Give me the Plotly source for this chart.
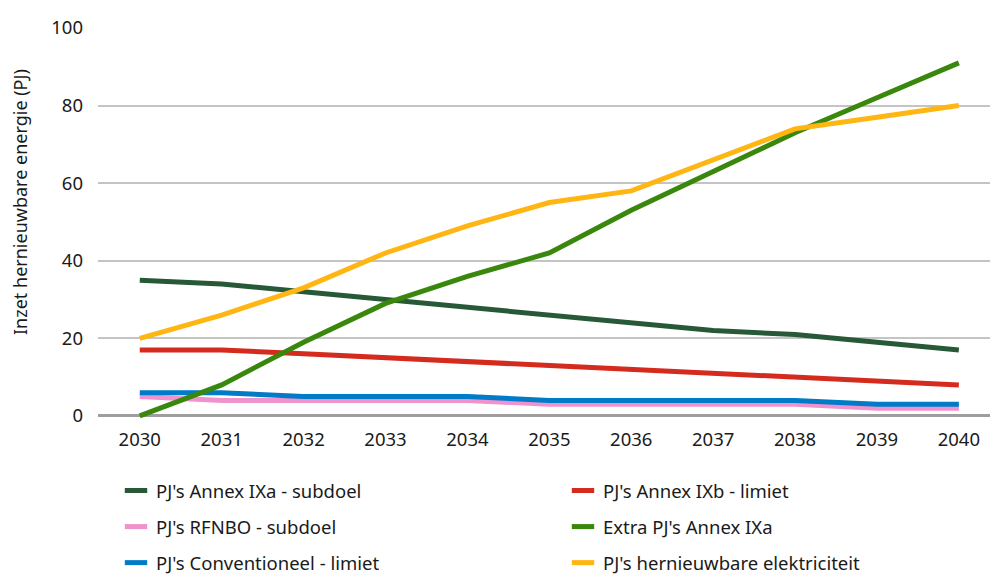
import plotly.graph_objects as go

years = [2030, 2031, 2032, 2033, 2034, 2035, 2036, 2037, 2038, 2039, 2040]

annex_ixa_subdoel = [35, 34, 32, 30, 28, 26, 24, 22, 21, 19, 17]
annex_ixb_limiet = [17, 17, 16, 15, 14, 13, 12, 11, 10, 9, 8]
rfnbo_subdoel = [5, 4, 4, 4, 4, 3, 3, 3, 3, 2, 2]
extra_annex_ixa = [0, 8, 19, 29, 36, 42, 53, 63, 73, 82, 91]
conventioneel_limiet = [6, 6, 5, 5, 5, 4, 4, 4, 4, 3, 3]
hernieuwbare_elektriciteit = [20, 26, 33, 42, 49, 55, 58, 66, 74, 77, 80]

y_ticks = [0, 20, 40, 60, 80, 100]
y_title = "Inzet hernieuwbare energie (PJ)"

FONT = "Noto Sans"
FS = 18.5

# (name, values, colour, legend column)
series = [
    ("PJ's Annex IXa - subdoel", annex_ixa_subdoel, "#275937", "legend"),
    ("PJ's RFNBO - subdoel", rfnbo_subdoel, "#F092CD", "legend"),
    ("PJ's Conventioneel - limiet", conventioneel_limiet, "#007BC7", "legend"),
    ("PJ's Annex IXb - limiet", annex_ixb_limiet, "#D52B1E", "legend2"),
    ("Extra PJ's Annex IXa", extra_annex_ixa, "#39870C", "legend2"),
    ("PJ's hernieuwbare elektriciteit", hernieuwbare_elektriciteit, "#FFB612", "legend2"),
]

fig = go.Figure()

for name, values, colour, _ in series:
    fig.add_trace(go.Scatter(
        x=years, y=values, mode="lines", name=name,
        line=dict(color=colour, width=5),
        showlegend=False, hoverinfo="x+y+name",
    ))

# legend keys: short thick bars
for i, (name, values, colour, leg) in enumerate(series):
    fig.add_trace(go.Scatter(
        x=[None], y=[None], mode="markers", name=name,
        marker=dict(symbol="line-ew", size=16, line=dict(color=colour, width=7)),
        legend=leg, legendgroup=f"g{i}",
    ))

legend_common = dict(
    orientation="v", xref="container", yref="container",
    yanchor="top", xanchor="left",
    font=dict(family=FONT, size=FS, color="#1a1a1a"),
    tracegroupgap=9, itemwidth=30, bgcolor="rgba(0,0,0,0)",
)

fig.update_layout(
    width=990, height=576,
    margin=dict(l=98, r=0, t=28, b=150, autoexpand=False),
    plot_bgcolor="white", paper_bgcolor="white",
    font=dict(family=FONT, size=FS, color="#1a1a1a"),
    legend=dict(x=116 / 990, y=1 - 472 / 576, **legend_common),
    legend2=dict(x=563 / 990, y=1 - 472 / 576, **legend_common),
    xaxis=dict(
        range=[2029.49, 2040.38], tickmode="array", tickvals=years,
        ticktext=[str(y) for y in years], showgrid=False, showline=False,
        zeroline=False, ticks="", tickfont=dict(size=FS), automargin=False,
    ),
    yaxis=dict(
        range=[-2.6, 100], tickmode="array", tickvals=y_ticks,
        showgrid=True, gridcolor="#C4C4C4", gridwidth=1.5,
        zeroline=True, zerolinecolor="#9E9E9E", zerolinewidth=2.5,
        showline=False, ticks="", ticklabelstandoff=14, tickfont=dict(size=FS),
        automargin=False,
    ),
    annotations=[dict(
        text=y_title, textangle=-90, xref="paper", yref="paper",
        x=(20 - 98) / 892, y=(416 - 202) / 398 + 10 / 398,
        xanchor="center", yanchor="middle", showarrow=False,
        font=dict(family=FONT, size=18, color="#1a1a1a"),
    )],
)

fig.write_html("out.html")
